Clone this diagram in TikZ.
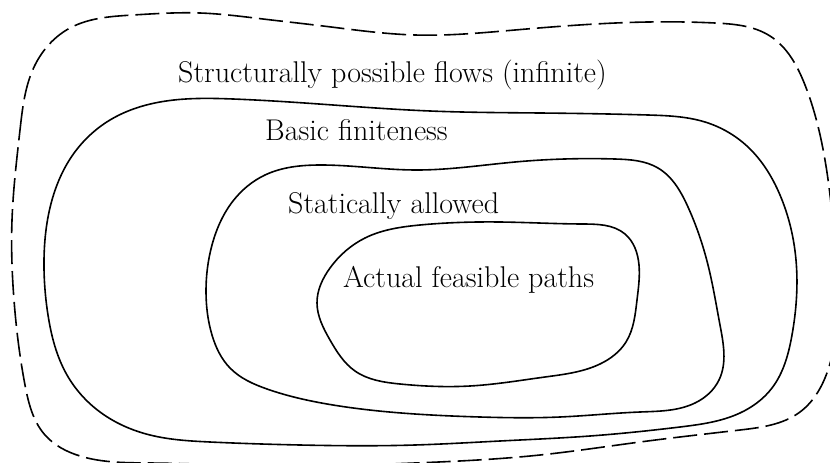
\documentclass[tikz,border=0pt]{standalone}
\usetikzlibrary{hobby}
\begin{document}
\begin{tikzpicture}[x=1pt,y=-1pt,
  region/.style={line width=1.6pt, black},
  outerregion/.style={line width=1.6pt, black, dash pattern=on 24pt off 7pt},
  lbl/.style={anchor=base west, inner sep=0pt, font=\fontsize{30}{35}\selectfont}]
\useasboundingbox (0,0) rectangle (830,463);
\clip (0,0) rectangle (830,463);
% outer dashed region
\draw[outerregion, use Hobby shortcut, closed=true]
 (20,130) .. (35,65) .. (70,28) .. (133,15) .. (200,13) .. (263,19) .. (323,26)
 .. (415,35) .. (515,30) .. (648,22) .. (715,23) .. (770,36) .. (805,85)
 .. (825,160) .. (836,270) .. (828,370) .. (800,412) .. (740,430) .. (640,442)
 .. (540,455) .. (415,463) .. (280,466) .. (150,463) .. (80,456) .. (45,435)
 .. (25,385) .. (14,300) .. (12,220);
% basic finiteness
\draw[region, use Hobby shortcut, closed=true]
 (52,200) .. (72,156) .. (110,120) .. (160,102) .. (233,99) .. (333,105)
 .. (430,111) .. (540,113) .. (648,115) .. (705,122) .. (748,147) .. (780,195)
 .. (796,260) .. (792,335) .. (772,388) .. (740,413) .. (680,427) .. (590,436)
 .. (500,441) .. (415,445) .. (300,445) .. (210,442) .. (150,435) .. (100,412)
 .. (67,375) .. (48,315) .. (44,260);
% statically allowed
\draw[region, use Hobby shortcut, closed=true]
 (206,292) .. (212,245) .. (233,201) .. (265,175) .. (320,165) .. (415,170)
 .. (515,162) .. (615,159) .. (658,168) .. (688,207) .. (708,265) .. (720,325)
 .. (719,380) .. (695,403) .. (640,412) .. (560,417) .. (480,417) .. (415,414)
 .. (333,405) .. (267,389) .. (230,368) .. (212,335);
% actual feasible paths
\draw[region, use Hobby shortcut, closed=true]
 (330,268) .. (365,238) .. (420,225) .. (500,222) .. (582,224) .. (625,234)
 .. (639,265) .. (637,300) .. (626,342) .. (600,364) .. (545,377) .. (470,386)
 .. (400,384) .. (355,371) .. (330,340) .. (317,303);
\node[lbl] (t1) at (178,82) {Structurally possible flows (infinite)};
\node[lbl] (t2) at (265,140) {Basic finiteness};
\node[lbl] (t3) at (288,213) {Statically allowed};
\node[lbl] (t4) at (343,287) {Actual feasible paths};
\end{tikzpicture}
\end{document}
